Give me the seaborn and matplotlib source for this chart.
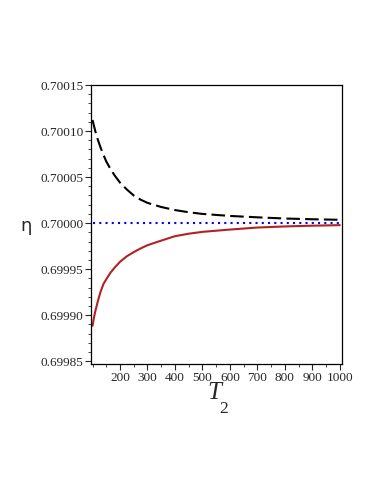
import matplotlib
matplotlib.use("Agg")
import matplotlib.pyplot as plt
from matplotlib.ticker import MultipleLocator, FixedLocator
import seaborn as sns
import pandas as pd

# Data
T2 = [100, 105, 110, 120, 130, 140, 150, 165, 180, 200, 225, 250, 275, 300,
      350, 400, 450, 500, 600, 700, 800, 900, 1000]
eta_dashed = [0.700112, 0.700106, 0.700100, 0.700090, 0.7000815, 0.700074, 0.700067,
              0.700059, 0.700052, 0.700044, 0.7000365, 0.700030, 0.7000255,
              0.700022, 0.7000175, 0.7000142, 0.7000118, 0.700010, 0.7000078,
              0.7000063, 0.700005, 0.7000042, 0.7000036]
eta_red = [0.6998884, 0.699897, 0.699904, 0.699916, 0.699926, 0.699934, 0.699939,
           0.699946, 0.6999515, 0.699958, 0.699964, 0.6999685, 0.6999725,
           0.699976, 0.699981, 0.6999858, 0.6999885, 0.6999905, 0.699993,
           0.6999952, 0.6999964, 0.6999972, 0.6999978]
eta_ref = [0.70000] * len(T2)

x_ticks = [200, 300, 400, 500, 600, 700, 800, 900, 1000]
y_ticks = [0.69985, 0.69990, 0.69995, 0.70000, 0.70005, 0.70010, 0.70015]
y_labels = ["0.69985", "0.69990", "0.69995", "0.70000", "0.70005", "0.70010", "0.70015"]

sns.set_style("ticks")
plt.rcParams['font.family'] = ['Liberation Serif', 'DejaVu Serif']

df = pd.DataFrame({"T2": T2, "dashed": eta_dashed, "red": eta_red, "ref": eta_ref})

fig = plt.figure(figsize=(3.82, 4.94), dpi=100)
ax = fig.add_axes([91/382, 1-364/494, (342-91)/382, (364-85)/494])

sns.lineplot(data=df, x="T2", y="ref", ax=ax, color="#0000ff", linewidth=1.5,
             linestyle=(0, (1, 2)))
sns.lineplot(data=df, x="T2", y="dashed", ax=ax, color="black", linewidth=1.5,
             linestyle=(0, (6.5, 2.5)))
sns.lineplot(data=df, x="T2", y="red", ax=ax, color="#b22222", linewidth=1.5)

ax.set_xlim(94.5, 1008)
ax.set_ylim(0.699847, 0.70015)
ax.set_xticks(x_ticks)
ax.set_xticklabels([str(t) for t in x_ticks], fontsize=9.5)
ax.xaxis.set_minor_locator(FixedLocator(list(range(100, 1000, 50))))
ax.set_yticks(y_ticks)
ax.set_yticklabels(y_labels, fontsize=9.5)
ax.yaxis.set_minor_locator(MultipleLocator(0.00001))
ax.tick_params(axis='both', which='major', direction='out', length=4, width=0.8, pad=1.5)
ax.tick_params(axis='both', which='minor', direction='out', length=2.5, width=0.6)
ax.tick_params(top=False, right=False)
for s in ax.spines.values():
    s.set_linewidth(0.9)
    s.set_color("black")
ax.set_xlabel("")
ax.set_ylabel("")

fig.text(26/382, 1-226/494, "η", fontsize=13, family=['DejaVu Sans'],
         ha='center', va='center')
fig.text(214/382, 1-393/494, "T", fontsize=18, style='italic', ha='center', va='center')
fig.text(224/382, 1-409/494, "2", fontsize=12.5, ha='center', va='center')

fig.savefig("out.png", dpi=100)
